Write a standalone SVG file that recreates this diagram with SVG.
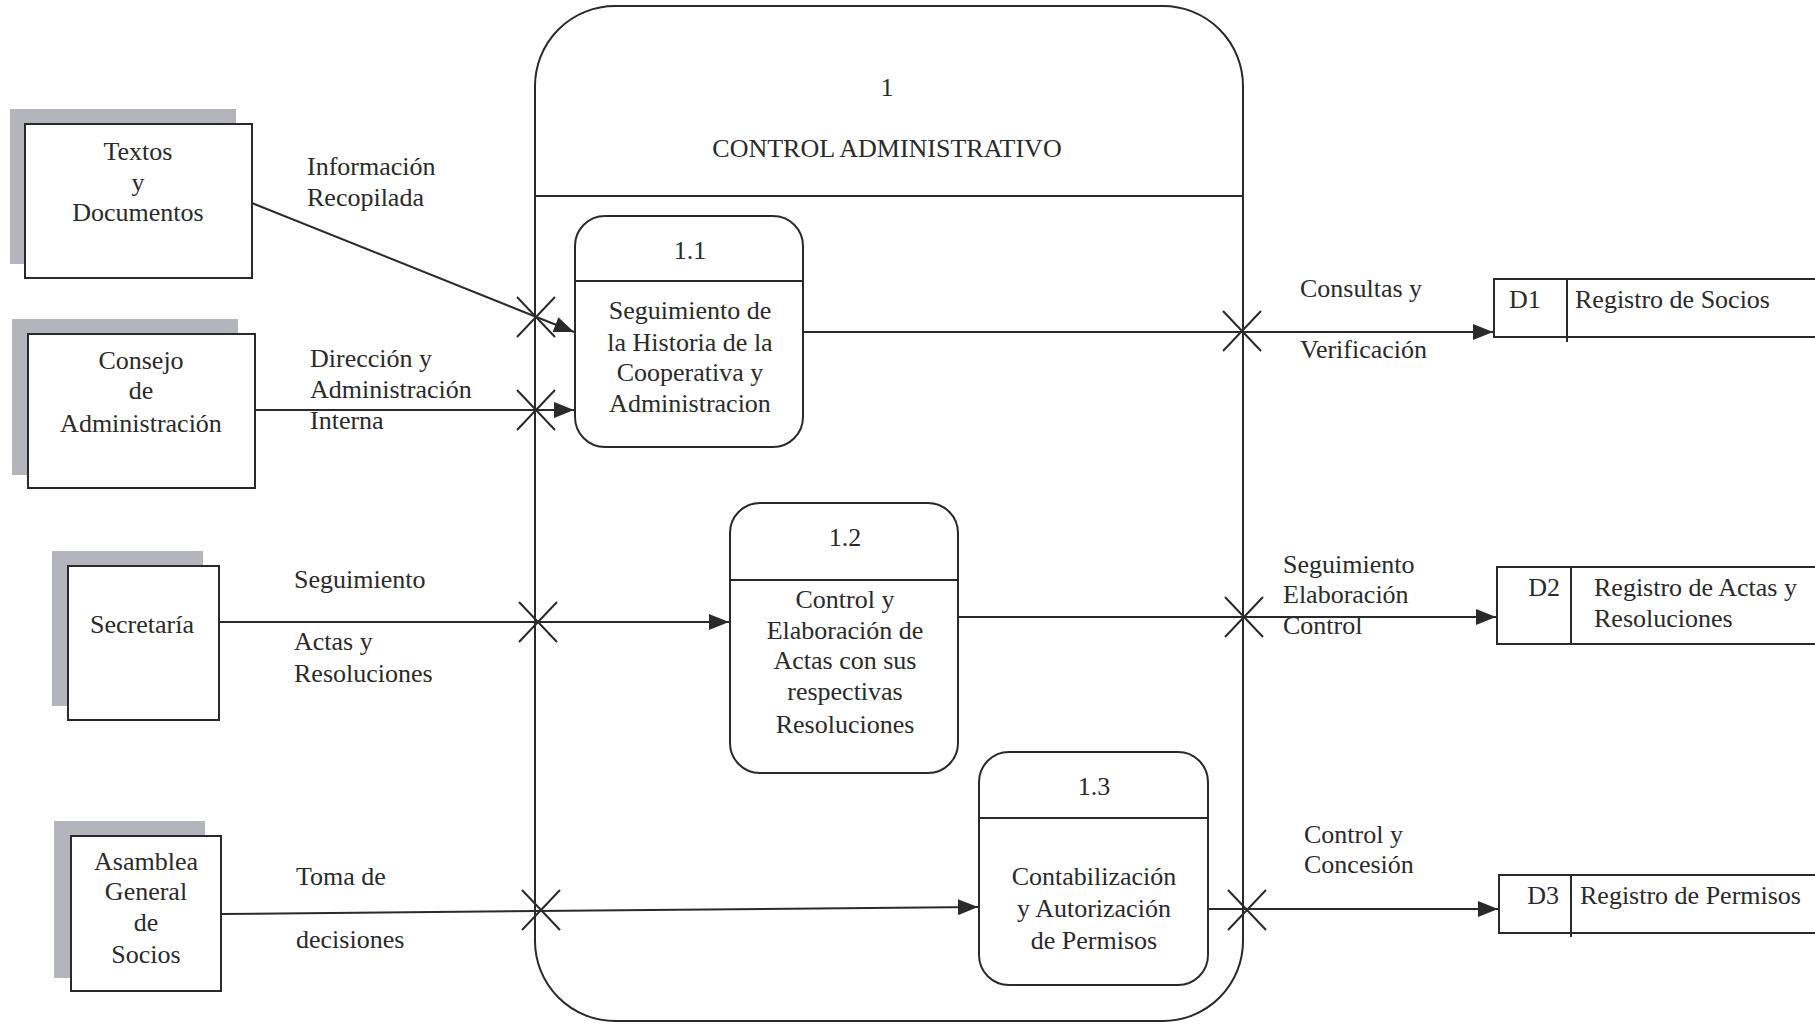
<svg xmlns="http://www.w3.org/2000/svg" width="1815" height="1024" viewBox="0 0 1815 1024">
<style>
text{font-family:"Liberation Serif","Times New Roman",serif;font-size:26px;fill:#2a2a2a}
.c{text-anchor:middle}
.ln{stroke:#2a2a2a;stroke-width:2;fill:none}
.box{stroke:#2a2a2a;stroke-width:2;fill:#fff}
.sh{fill:#b4b4bc}
.x{stroke:#2a2a2a;stroke-width:2}
</style>
<defs>
<marker id="ar" markerUnits="userSpaceOnUse" markerWidth="22" markerHeight="16" refX="20" refY="8" orient="auto">
<path d="M0,0 L20,8 L0,16 Z" fill="#2a2a2a"/>
</marker>
</defs>
<rect width="1815" height="1024" fill="#fff"/>

<g id="proc1">
<rect class="box" x="535" y="6" width="708" height="1015" rx="80" ry="80"/>
<line class="ln" x1="535" y1="196" x2="1243" y2="196"/>
<text class="c" x="887" y="96">1</text>
<text class="c" x="887" y="157">CONTROL ADMINISTRATIVO</text>
</g>

<g id="ent-textos">
<rect class="sh" x="10" y="109" width="226" height="155"/>
<rect class="box" x="25" y="124" width="227" height="154"/>
<text class="c" x="138" y="160">Textos</text>
<text class="c" x="138" y="191">y</text>
<text class="c" x="138" y="221">Documentos</text>
</g>

<g id="ent-consejo">
<rect class="sh" x="12" y="319" width="226" height="156"/>
<rect class="box" x="28" y="334" width="227" height="154"/>
<text class="c" x="141" y="369">Consejo</text>
<text class="c" x="141" y="399">de</text>
<text class="c" x="141" y="432">Administración</text>
</g>

<g id="ent-secretaria">
<rect class="sh" x="52" y="551" width="151" height="155"/>
<rect class="box" x="68" y="566" width="151" height="154"/>
<text class="c" x="142" y="633">Secretaría</text>
</g>

<g id="ent-asamblea">
<rect class="sh" x="54" y="821" width="151" height="157"/>
<rect class="box" x="71" y="836" width="150" height="155"/>
<text class="c" x="146" y="870">Asamblea</text>
<text class="c" x="146" y="900">General</text>
<text class="c" x="146" y="931">de</text>
<text class="c" x="146" y="963">Socios</text>
</g>

<g id="proc1-1">
<rect class="box" x="575" y="216" width="228" height="231" rx="30" ry="30"/>
<line class="ln" x1="575" y1="281" x2="803" y2="281"/>
<text class="c" x="690" y="259">1.1</text>
<text class="c" x="690" y="319">Seguimiento de</text>
<text class="c" x="690" y="351">la Historia de la</text>
<text class="c" x="690" y="381">Cooperativa  y</text>
<text class="c" x="690" y="412">Administracion</text>
</g>

<g id="proc1-2">
<rect class="box" x="730" y="503" width="228" height="270" rx="30" ry="30"/>
<line class="ln" x1="730" y1="580" x2="958" y2="580"/>
<text class="c" x="845" y="546">1.2</text>
<text class="c" x="845" y="608">Control  y</text>
<text class="c" x="845" y="639">Elaboración de</text>
<text class="c" x="845" y="669">Actas con sus</text>
<text class="c" x="845" y="700">respectivas</text>
<text class="c" x="845" y="733">Resoluciones</text>
</g>

<g id="proc1-3">
<rect class="box" x="979" y="752" width="229" height="233" rx="30" ry="30"/>
<line class="ln" x1="979" y1="818" x2="1208" y2="818"/>
<text class="c" x="1094" y="795">1.3</text>
<text class="c" x="1094" y="885">Contabilización</text>
<text class="c" x="1094" y="917">y Autorización</text>
<text class="c" x="1094" y="949">de Permisos</text>
</g>

<g id="store-d1">
<path class="ln" d="M1815,279 H1494 V337 H1815"/>
<line class="ln" x1="1567" y1="279" x2="1567" y2="342"/>
<text x="1509" y="308">D1</text>
<text x="1575" y="308">Registro de Socios</text>
</g>

<g id="store-d2">
<path class="ln" d="M1815,567 H1497 V644 H1815"/>
<line class="ln" x1="1571" y1="567" x2="1571" y2="644"/>
<text x="1560" y="596" text-anchor="end">D2</text>
<text x="1594" y="596">Registro de Actas y</text>
<text x="1594" y="627">Resoluciones</text>
</g>

<g id="store-d3">
<path class="ln" d="M1815,875 H1499 V933 H1815"/>
<line class="ln" x1="1571" y1="875" x2="1571" y2="937"/>
<text x="1559" y="904" text-anchor="end">D3</text>
<text x="1580" y="904">Registro de Permisos</text>
</g>

<g id="connectors">
<line class="ln" x1="252" y1="203" x2="574" y2="332" marker-end="url(#ar)"/>
<line class="ln" x1="255" y1="410" x2="574" y2="410" marker-end="url(#ar)"/>
<line class="ln" x1="219" y1="622" x2="729" y2="622" marker-end="url(#ar)"/>
<line class="ln" x1="221" y1="914" x2="978" y2="907" marker-end="url(#ar)"/>
<line class="ln" x1="803" y1="332" x2="1493" y2="332" marker-end="url(#ar)"/>
<line class="ln" x1="958" y1="617" x2="1496" y2="617" marker-end="url(#ar)"/>
<line class="ln" x1="1208" y1="909" x2="1498" y2="909" marker-end="url(#ar)"/>
<g class="x">
<path d="M517,297 L555,337 M555,297 L517,337"/>
<path d="M517,390 L555,430 M555,390 L517,430"/>
<path d="M519,602 L557,642 M557,602 L519,642"/>
<path d="M522,890 L560,930 M560,890 L522,930"/>
<path d="M1223,311 L1261,351 M1261,311 L1223,351"/>
<path d="M1225,597 L1263,637 M1263,597 L1225,637"/>
<path d="M1228,890 L1266,930 M1266,890 L1228,930"/>
</g>
<text x="307" y="175">Información</text>
<text x="307" y="206">Recopilada</text>
<text x="310" y="367">Dirección y</text>
<text x="310" y="398">Administración</text>
<text x="310" y="429">Interna</text>
<text x="294" y="588">Seguimiento</text>
<text x="294" y="650">Actas y</text>
<text x="294" y="682">Resoluciones</text>
<text x="296" y="885">Toma de</text>
<text x="296" y="948">decisiones</text>
<text x="1300" y="297">Consultas y</text>
<text x="1300" y="358">Verificación</text>
<text x="1283" y="573">Seguimiento</text>
<text x="1283" y="603">Elaboración</text>
<text x="1283" y="634">Control</text>
<text x="1304" y="843">Control y</text>
<text x="1304" y="873">Concesión</text>
</g>
</svg>
